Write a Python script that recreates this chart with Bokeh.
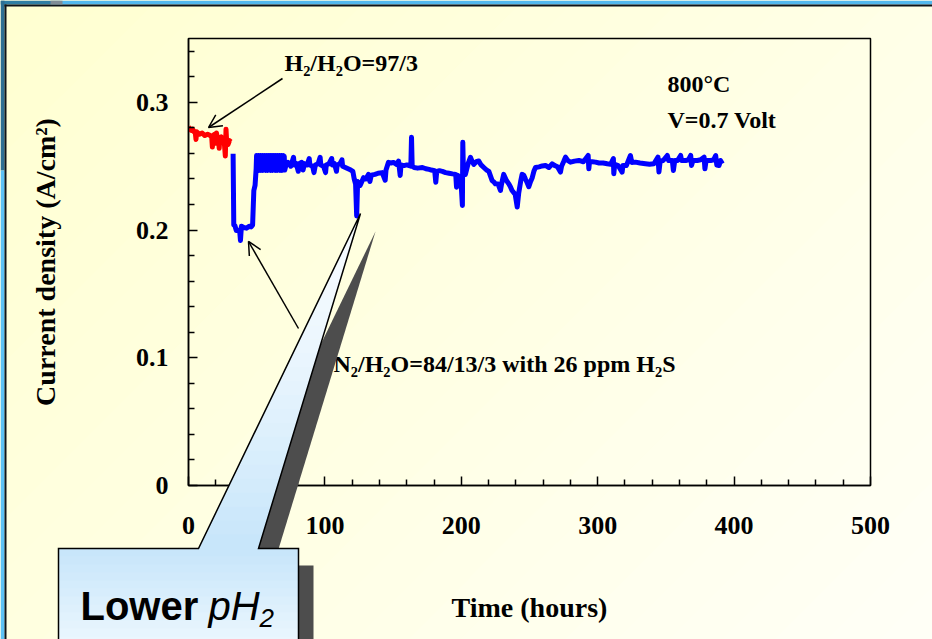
from bokeh.plotting import figure
from bokeh.models import Range1d, FixedTicker, Label, Arrow, OpenHead, GridBox
from bokeh.core.properties import value
from bokeh.embed import file_html
from bokeh.resources import INLINE

# ---- measured current density (A/cm2) versus time (hours) ----
# H2/H2O = 97/3 (clean fuel)
h2_time = [0, 1, 2, 3, 4, 5, 5.5, 6, 8, 10, 12, 14, 16, 17, 17.5, 18, 19, 20, 20.5,
           21, 22, 22.5, 23, 24, 25, 26, 27, 27.5, 28, 29, 30, 31]
h2_current = [0.281, 0.279, 0.278, 0.279, 0.277, 0.276, 0.271, 0.277, 0.275, 0.276,
              0.274, 0.275, 0.274, 0.273, 0.265, 0.274, 0.275, 0.268, 0.276, 0.273,
              0.272, 0.264, 0.272, 0.273, 0.271, 0.272, 0.258, 0.279, 0.269, 0.267,
              0.270, 0.269]

# H2/N2/H2O = 84/13/3 with 26 ppm H2S: switch-over and initial drop
h2s_time_start = [32.7, 33.2, 34.0, 35.0, 36.5, 37.5, 38.1, 38.8, 40.5, 42.5, 44.5,
                  46.0, 47.0, 47.9, 48.8, 49.6]
h2s_current_start = [0.2597, 0.2040, 0.2036, 0.1997, 0.1999, 0.1995, 0.1919, 0.2030,
                     0.2020, 0.2015, 0.2030, 0.2025, 0.2040, 0.2310, 0.2350, 0.2480]

# fast oscillating stretch after recovery
h2s_time_osc = [49.9, 50.25, 50.6, 50.95, 51.3, 51.65, 52.0, 52.35, 52.7, 53.05,
                53.4, 53.75, 54.1, 54.45, 54.8, 55.15, 55.5, 55.85, 56.2, 56.55,
                56.9, 57.25, 57.6, 57.95, 58.3, 58.65, 59.0, 59.35, 59.7, 60.05,
                60.4, 60.75, 61.1, 61.45, 61.8, 62.15, 62.5, 62.85, 63.2, 63.55,
                63.9, 64.25, 64.6, 64.95, 65.3, 65.65, 66.0, 66.35, 66.7, 67.05,
                67.4, 67.75, 68.1, 68.45, 68.8, 69.15, 69.5, 69.85, 70.2, 70.55]
h2s_current_osc = [0.2584, 0.2467, 0.2580, 0.2470, 0.2584, 0.2467, 0.2575, 0.2475, 0.2584, 0.2467,
                   0.2580, 0.2472, 0.2584, 0.2467, 0.2578, 0.2470, 0.2584, 0.2475, 0.2580, 0.2467,
                   0.2584, 0.2470, 0.2578, 0.2467, 0.2584, 0.2475, 0.2580, 0.2470, 0.2584, 0.2467,
                   0.2575, 0.2472, 0.2584, 0.2467, 0.2580, 0.2470, 0.2584, 0.2475, 0.2578, 0.2467,
                   0.2584, 0.2470, 0.2580, 0.2467, 0.2584, 0.2475, 0.2578, 0.2470, 0.2584, 0.2467,
                   0.2580, 0.2472, 0.2584, 0.2467, 0.2575, 0.2470, 0.2584, 0.2475, 0.2578, 0.2470]

# long-term operation
h2s_time_rest = [71.5,
                 73, 75, 77, 77.5, 79, 80.5, 81, 83, 84, 85, 87, 88.5, 89, 91, 92, 93, 95, 96.5,
                 97, 99, 100.5, 101, 103, 105, 105.5, 107, 108.5, 109, 111, 112.5, 113, 115,
                 117, 119, 120.5, 121.5, 122.5, 123.3, 124.0, 125.9, 128.3, 130, 132, 133, 134,
                 136.7, 139, 142, 144.2, 144.8, 146.6, 148.5, 150.3, 152.5, 154, 155.2, 155.8,
                 158, 160, 163, 163.5, 164, 165.4, 168, 171.5, 174, 176.4, 178, 180.5, 181.3,
                 182, 184, 186.1, 188.5, 191, 193.5, 195.9, 196.5, 197.2, 199.6, 200.8, 201.1,
                 201.6, 203, 205, 206.7, 208, 209.2, 211, 212.8, 214.5, 216.5, 218.5, 220.2,
                 221.5, 222.6, 224, 225, 227, 228.7, 229.5, 231.1, 233, 234.8, 236, 237.2,
                 239.5, 241, 242.1, 243.5, 244.6, 245.8, 247, 248.3, 249.5, 250.8, 252, 253.2,
                 254.4, 257, 259.3, 261.7, 264.2, 266.6, 268.5, 270.5, 272.7, 273.5, 275,
                 276.4, 278, 280, 283, 286.2, 289.5, 293, 293.5, 294, 296, 298.4, 301, 304, 307,
                 309.5, 311.5, 311.8, 312.5, 315, 317.9, 318.5, 321, 324, 325, 327.7, 331, 335,
                 338, 341.2, 344.2, 344.9, 345.8, 348, 351, 352, 354.7, 355.5, 356.5, 358.5,
                 360.8, 361.5, 364.5, 366.5, 368.2, 368.8, 369.8, 373, 375.5, 378, 378.6, 379.5,
                 382.8, 385, 386.5, 387.3, 389, 390, 391.4]
h2s_current_rest = [0.2510,
                    0.2530, 0.2500, 0.2570, 0.2510, 0.2520, 0.2460, 0.2520, 0.2530, 0.2470,
                    0.2520, 0.2510, 0.2560, 0.2510, 0.2500, 0.2450, 0.2510, 0.2520, 0.2570,
                    0.2510, 0.2500, 0.2450, 0.2510, 0.2520, 0.2560, 0.2510, 0.2520, 0.2460,
                    0.2510, 0.2520, 0.2550, 0.2500, 0.2490,
                    0.2480, 0.2470, 0.2460, 0.2400, 0.2360, 0.2110, 0.2380, 0.2350, 0.2410,
                    0.2400, 0.2436, 0.2380, 0.2430,
                    0.2436, 0.2445, 0.2450, 0.2390, 0.2470, 0.2530, 0.2525, 0.2530, 0.2515,
                    0.2540, 0.2428, 0.2510,
                    0.2505, 0.2510, 0.2500, 0.2727, 0.2500, 0.2490, 0.2485, 0.2490, 0.2480,
                    0.2475, 0.2470, 0.2465, 0.2375,
                    0.2460, 0.2465, 0.2460, 0.2450, 0.2445, 0.2440, 0.2436, 0.2336, 0.2430,
                    0.2410, 0.2193, 0.2688,
                    0.2440, 0.2436, 0.2520, 0.2570, 0.2535, 0.2515, 0.2535, 0.2541, 0.2510,
                    0.2490, 0.2470, 0.2460,
                    0.2420, 0.2388, 0.2375, 0.2362, 0.2360, 0.2310, 0.2360, 0.2436, 0.2390,
                    0.2362, 0.2340, 0.2310,
                    0.2280, 0.2180, 0.2290, 0.2380, 0.2436, 0.2430, 0.2400, 0.2370, 0.2340,
                    0.2380, 0.2410, 0.2460,
                    0.2490, 0.2495, 0.2502, 0.2506, 0.2490, 0.2519, 0.2505, 0.2495, 0.2454,
                    0.2500, 0.2535,
                    0.2571, 0.2545, 0.2532, 0.2540, 0.2545, 0.2535, 0.2584, 0.2480, 0.2535,
                    0.2535, 0.2532, 0.2525, 0.2525, 0.2519,
                    0.2515, 0.2560, 0.2441, 0.2515, 0.2505, 0.2454, 0.2505, 0.2505, 0.2584,
                    0.2530, 0.2532, 0.2525, 0.2519,
                    0.2515, 0.2519, 0.2571, 0.2454, 0.2540, 0.2545, 0.2584, 0.2545, 0.2545,
                    0.2467, 0.2545, 0.2545,
                    0.2584, 0.2545, 0.2545, 0.2550, 0.2584, 0.2506, 0.2545, 0.2545, 0.2550,
                    0.2571, 0.2480, 0.2545,
                    0.2545, 0.2550, 0.2584, 0.2510, 0.2506, 0.2545, 0.2519]

h2s_time = h2s_time_start + h2s_time_osc + h2s_time_rest
h2s_current = h2s_current_start + h2s_current_osc + h2s_current_rest

x_ticks = [0, 100, 200, 300, 400, 500]
x_tick_labels = ["0", "100", "200", "300", "400", "500"]
x_minor = [20, 40, 60, 80, 120, 140, 160, 180, 220, 240, 260, 280,
           320, 340, 360, 380, 420, 440, 460, 480]
y_ticks = [0, 0.1, 0.2, 0.3]
y_tick_labels = ["0", "0.1", "0.2", "0.3"]
y_minor = [0.02, 0.04, 0.06, 0.08, 0.12, 0.14, 0.16, 0.18, 0.22, 0.24, 0.26, 0.28,
           0.32, 0.34]

# ---- page geometry (canvas pixels, y downward) ----
W, H = 932, 639
FL, FR, FT, FB = 188, 870, 38, 485          # chart frame edges
X0, X1, Y0, Y1 = 0, 500, 0, 0.35

def dx(px):
    return X0 + (px - FL) * (X1 - X0) / (FR - FL)

def dy(py):
    return Y0 + (FB - py) * (Y1 - Y0) / (FB - FT)

SERIF = "Liberation Serif"
SANS = "Liberation Sans"


def mix(c0, c1, t):
    return "#%02x%02x%02x" % tuple(int(round(a + (b - a) * t)) for a, b in zip(c0, c1))


def sheet(fill=None):
    """A full-window drawing layer whose frame covers the whole canvas."""
    f = figure(width=W, height=H, x_range=Range1d(0, W), y_range=Range1d(H, 0),
               output_backend="svg", toolbar_location=None, title=None,
               x_axis_type=None, y_axis_type=None, min_border=0)
    f.frame_align = False
    f.outline_line_color = None
    f.grid.visible = False
    if fill is None:
        f.background_fill_alpha = 0
        f.border_fill_alpha = 0
    else:
        f.background_fill_color = fill
        f.border_fill_color = fill
    return f

# ---- layer 1: slide background ----
bg = sheet("#FFFFE6")
n_bands = 30
total = W + H
band_xs, band_ys, band_cols = [], [], []
for i in range(n_bands):
    a = total * i / n_bands - 1
    b = total * (i + 1) / n_bands + 1
    band_xs.append([a + 60, b + 60, b - 760, a - 760])
    band_ys.append([-60, -60, 760, 760])
    band_cols.append(mix((255, 255, 208), (255, 255, 247), (i + 0.5) / n_bands))
bg.patches(band_xs, band_ys, fill_color=band_cols, line_color=None)

edge_xs = [[0, 60, 60, 0], [60, W, W, 60], [0, 4, 4, 0], [0, 4, 4, 0],
           [4, W, W, 4], [4, 6, 6, 4]]
edge_ys = [[0, 0, 4, 4], [0, 0, 4, 4], [0, 0, 170, 170], [170, 170, H, H],
           [4, 4, 6, 6], [4, 4, H, H]]
edge_cols = ["#2F7EA4", "#52B8EE", "#2D6F94", "#5CC2F6", "#0E141A", "#0E141A"]
bg.patches(edge_xs, edge_ys, fill_color=edge_cols, line_color=None)
bg.patch([50, 62, 62, 50], [0, 0, 4, 4], fill_color="#7F8C96", line_color=None)

# ---- layer 2: the chart ----
p = figure(width=W, height=H, title=None, output_backend="svg", toolbar_location=None,
           x_range=Range1d(X0, X1), y_range=Range1d(Y0, Y1),
           min_border_left=FL, min_border_right=W - FR,
           min_border_top=FT, min_border_bottom=H - FB)
p.frame_align = False
p.background_fill_alpha = 0
p.border_fill_alpha = 0
p.outline_line_color = "black"
p.outline_line_width = 1.5
p.grid.visible = False

p.line(h2_time, h2_current, line_color="#FF0000", line_width=5, line_join="round")
p.line(h2s_time, h2s_current, line_color="#0000FF", line_width=5, line_join="round")

for ax in (p.xaxis[0], p.yaxis[0]):
    ax.axis_line_color = "black"
    ax.axis_line_width = 1.5
    ax.major_tick_line_width = 1.5
    ax.minor_tick_line_width = 1.5
    ax.major_tick_line_color = "black"
    ax.minor_tick_line_color = "black"
    ax.major_tick_out = 0
    ax.major_tick_in = 9
    ax.minor_tick_out = 0
    ax.minor_tick_in = 6
    ax.major_label_text_font = SERIF
    ax.major_label_text_font_style = "bold"
    ax.major_label_text_font_size = "26px"
    ax.major_label_text_color = "black"
    ax.axis_label_text_font = SERIF
    ax.axis_label_text_font_style = "bold"
    ax.axis_label_text_font_size = "28px"
    ax.axis_label_text_color = "black"

p.xaxis.ticker = FixedTicker(ticks=x_ticks, minor_ticks=x_minor)
p.xaxis.major_label_overrides = dict(zip(x_ticks, x_tick_labels))
p.xaxis.major_label_standoff = 31
p.xaxis.axis_label = "Time (hours)"
p.xaxis.axis_label_standoff = 55

p.yaxis.ticker = FixedTicker(ticks=y_ticks, minor_ticks=y_minor)
p.yaxis.major_label_overrides = dict(zip(y_ticks, y_tick_labels))
p.yaxis.major_label_standoff = 20
p.yaxis.axis_label = "Current density (A/cm\u00b2)"
p.yaxis.axis_label_standoff = 72


def label(px, py, text, size=24):
    p.add_layout(Label(x=px, y=py, x_units="canvas", y_units="canvas",
                       text=text, text_font=SERIF, text_font_style="bold",
                       text_font_size=f"{size}px", text_color="black",
                       text_align="left", text_baseline="alphabetic"))

label(284, 62, "H\u2082/H\u2082O=97/3")
label(667, 83, "800\u00b0C")
label(667, 119, "V=0.7 Volt")
label(333, 363, "N\u2082/H\u2082O=84/13/3 with 26 ppm H\u2082S")

p.add_layout(Arrow(end=OpenHead(size=13, line_width=1.5, line_color="black"),
                   x_start=dx(282), y_start=dy(78), x_end=dx(208), y_end=dy(127),
                   line_width=1.5, line_color="black"))
p.add_layout(Arrow(end=OpenHead(size=13, line_width=1.5, line_color="black"),
                   x_start=dx(298), y_start=dy(328), x_end=dx(248), y_end=dy(241),
                   line_width=1.5, line_color="black"))

# ---- layer 3: "Lower pH2" callout ----
top = sheet()
SH = "#4D4D4D"
top.patch([213, 375, 273], [565, 231, 565], fill_color=SH, line_color=None)
top.patch([73, 313, 313, 73], [565, 565, H + 10, H + 10], fill_color=SH, line_color=None)

tip = (360, 213)
base_l, base_r, base_y = 198, 258, 548


def edge(y, bx):
    return tip[0] + (bx - tip[0]) * (y - tip[1]) / (base_y - tip[1])

steps = 24
c_xs, c_ys, c_cols = [], [], []
for i in range(steps):
    ya = tip[1] + (base_y - tip[1]) * i / steps
    yb = min(base_y + 1, tip[1] + (base_y - tip[1]) * (i + 1) / steps + 0.7)
    c_xs.append([edge(ya, base_l), edge(ya, base_r), edge(yb, base_r), edge(yb, base_l)])
    c_ys.append([ya, ya, yb, yb])
    c_cols.append(mix((247, 252, 255), (198, 229, 250), ((i + 0.5) / steps) ** 1.5))
for i in range(12):
    ya = 548 + i * 8
    c_xs.append([58, 298, 298, 58])
    c_ys.append([ya, ya, ya + 8.7, ya + 8.7])
    c_cols.append(mix((198, 229, 250), (236, 247, 254), (i + 0.5) / 12))
top.patches(c_xs, c_ys, fill_color=c_cols, line_color=None)

top.line([58, 58, base_l, tip[0], base_r, 298, 298],
         [H + 10, 548, 548, tip[1], 548, 548, H + 10],
         line_color="black", line_width=1.5, line_join="miter")

top.text(x=[80], y=[605], text=["Lower"], text_font=value(SANS), text_font_style="bold",
         text_font_size="40px", text_color="black", text_baseline="alphabetic")
top.text(x=[208], y=[605], text=["pH"], text_font=value(SANS), text_font_style="italic",
         text_font_size="40px", text_color="black", text_baseline="alphabetic")
top.text(x=[259], y=[617], text=["2"], text_font=value(SANS), text_font_style="italic",
         text_font_size="26px", text_color="black", text_baseline="alphabetic")

page = GridBox(children=[(bg, 0, 0), (p, 0, 0), (top, 0, 0)])

open("out.html", "w").write(file_html(page, INLINE))
